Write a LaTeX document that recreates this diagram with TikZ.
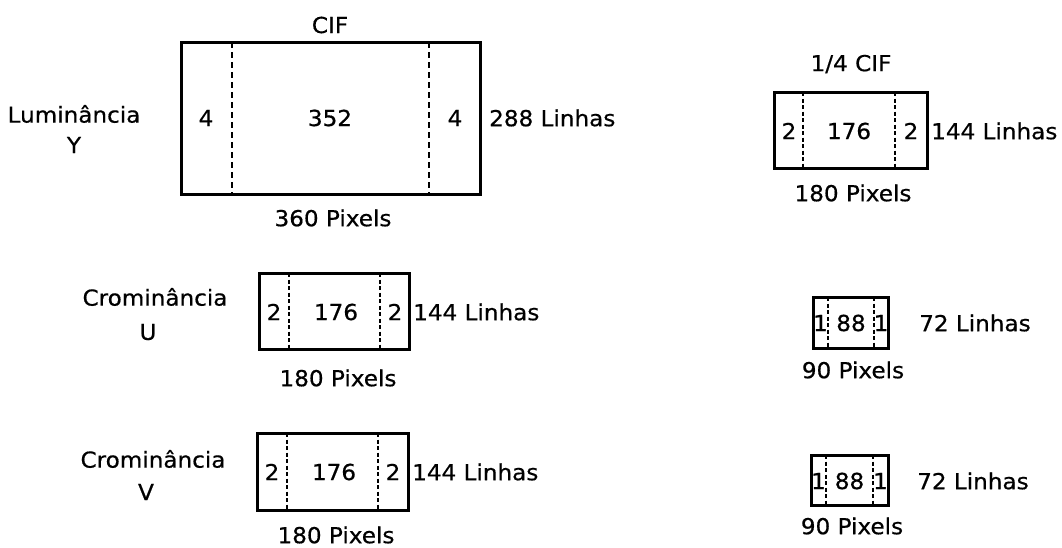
\documentclass[tikz,border=0pt]{standalone}
\usepackage{fontspec}
\setmainfont{DejaVu Sans}[FakeStretch=1.05,FakeBold=0.6]
\begin{document}
\begin{tikzpicture}[x=1pt,y=-1pt,
  frame/.style={line width=3pt,line join=miter},
  bigdash/.style={line width=2.3pt,dash pattern=on 6pt off 4pt},
  smalldash/.style={line width=2.1pt,dash pattern=on 4pt off 2.5pt},
  lbl/.style={inner sep=0pt,font=\fontsize{22}{26}\selectfont},
  lblw/.style={lbl,anchor=west}]
\useasboundingbox (0,0) rectangle (1062,547);
% ---- CIF (luminance)
\draw[frame] (181,42) rectangle (480,194);
\draw[bigdash] (232,42) -- (232,194);
\draw[bigdash] (429,42) -- (429,194);
\node[lbl] (cif) at (330,25) {CIF};
\node[lbl] (cifl) at (206,118) {4};
\node[lbl] (cifc) at (330,118) {352};
\node[lbl] (cifr) at (455,118) {4};
\node[lblw] (cifh) at (489,118) {288 Linhas};
\node[lbl] (cifw) at (333,218) {360 Pixels};
\node[lbl] (lum) at (74,114) {Luminância};
\node[lbl] (lumy) at (74,145) {Y};
% ---- 1/4 CIF
\draw[frame] (774,92) rectangle (927,168);
\draw[smalldash] (803,92) -- (803,168);
\draw[smalldash] (895,92) -- (895,168);
\node[lbl] (qcif) at (851,64) {1/4 CIF};
\node[lbl] (qcifl) at (789,131) {2};
\node[lbl] (qcifc) at (849,131) {176};
\node[lbl] (qcifr) at (911,131) {2};
\node[lblw] (qcifh) at (931,131) {144 Linhas};
\node[lbl] (qcifw) at (853,193) {180 Pixels};
% ---- U (CIF)
\draw[frame] (259,273) rectangle (409,349);
\draw[smalldash] (289,273) -- (289,349);
\draw[smalldash] (380,273) -- (380,349);
\node[lbl] (ul) at (274,312) {2};
\node[lbl] (uc) at (336,312) {176};
\node[lbl] (ur) at (395,312) {2};
\node[lblw] (uh) at (413,312) {144 Linhas};
\node[lbl] (uw) at (338,378) {180 Pixels};
\node[lbl] (crU) at (155,297) {Crominância};
\node[lbl] (crUl) at (148,332) {U};
% ---- V (CIF)
\draw[frame] (257,433) rectangle (408,510);
\draw[smalldash] (287,433) -- (287,510);
\draw[smalldash] (378,433) -- (378,510);
\node[lbl] (vl) at (272,472) {2};
\node[lbl] (vc) at (334,472) {176};
\node[lbl] (vr) at (393,472) {2};
\node[lblw] (vh) at (412,472) {144 Linhas};
\node[lbl] (vw) at (336,535) {180 Pixels};
\node[lbl] (crV) at (153,459) {Crominância};
\node[lbl] (crVl) at (146,492) {V};
% ---- U (1/4 CIF)
\draw[frame] (813,297) rectangle (888,348);
\draw[smalldash] (828,297) -- (828,348);
\draw[smalldash] (874,297) -- (874,348);
\node[lbl] (sul) at (820.5,323) {1};
\node[lbl] (suc) at (851,323) {88};
\node[lbl] (sur) at (881,323) {1};
\node[lblw] (suh) at (919,323) {72 Linhas};
\node[lbl] (suw) at (853,370) {90 Pixels};
% ---- V (1/4 CIF)
\draw[frame] (811,455) rectangle (888,505);
\draw[smalldash] (826,455) -- (826,505);
\draw[smalldash] (873,455) -- (873,505);
\node[lbl] (svl) at (818.5,481) {1};
\node[lbl] (svc) at (849.5,481) {88};
\node[lbl] (svr) at (880.5,481) {1};
\node[lblw] (svh) at (917,481) {72 Linhas};
\node[lbl] (svw) at (852,526) {90 Pixels};
\end{tikzpicture}
\end{document}
